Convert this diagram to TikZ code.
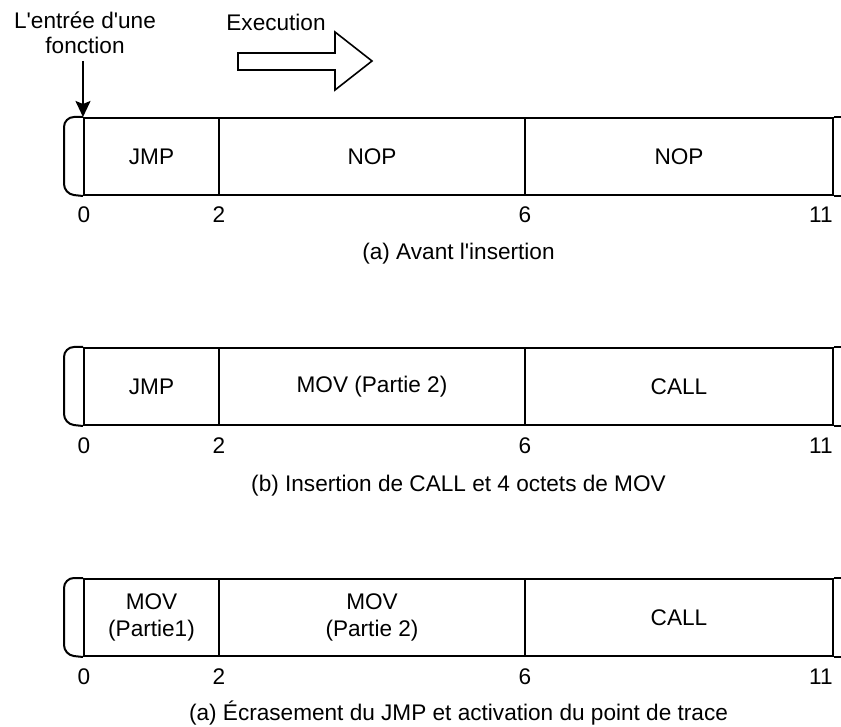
\documentclass[tikz,border=0pt]{standalone}
\usepackage{fontspec}
\setmainfont{Liberation Sans}
\usetikzlibrary{arrows.meta}

\begin{document}
\begin{tikzpicture}[x=0.5pt, y=-0.5pt,
  cell/.style={draw, line width=1pt, minimum height=38.5pt, inner sep=0pt,
               align=center, font=\fontsize{11.3}{13.5}\selectfont},
  tick/.style={font=\fontsize{11.3}{13}\selectfont, inner sep=0pt},
  caption/.style={font=\fontsize{11.3}{13}\selectfont, inner sep=0pt},
  label/.style={font=\fontsize{11.3}{12.5}\selectfont, align=center},
  edge/.style={line width=1pt, rounded corners=5pt},
  arrow/.style={-{Stealth[length=8pt, width=7.5pt, inset=1.5pt]}, line width=1pt}
]
\useasboundingbox (0,0) rectangle (841,727);

% direction of execution
\node[label] (exec) at (276,22) {Execution};
\draw[line width=0.8pt] (238,53) -- (335,53) -- (335,32) -- (372,61)
  -- (335,90) -- (335,70) -- (238,70) -- cycle;

% (a) before
\node[cell, minimum width=67.5pt] (r1a) at (151.5,156.5) {JMP};
\node[cell, minimum width=153pt] (r1b) at (372,156.5) {NOP};
\node[cell, minimum width=154pt] (r1c) at (679,156.5) {NOP};
\draw[edge] (r1a.north west) -- ++(-19,0) -- ++(0,77) -- (r1a.south west);
\draw[edge] (r1c.north east) -- ++(8,0);
\draw[edge] (r1c.south east) -- ++(8,0);
\node[tick] (t1a) at (84,215) {0};
\node[tick] (t1b) at (219,215) {2};
\node[tick] (t1c) at (525,215) {6};
\node[tick, anchor=east] (t1d) at (833,215) {11};
\node[caption] (cap1) at (458.5,254) {(a) Avant l\textquotesingle insertion};

\node[label] (entree) at (85,33) {L\textquotesingle entrée d\textquotesingle une\\fonction};
\draw[arrow] (entree.south -| r1a.north west) -- (r1a.north west);

% (b) CALL inserted
\node[cell, minimum width=67.5pt] (r2a) at (151.5,386.5) {JMP};
\node[cell, minimum width=153pt] (r2b) at (372,386.5) {MOV (Partie 2)};
\node[cell, minimum width=154pt] (r2c) at (679,386.5) {CALL};
\draw[edge] (r2a.north west) -- ++(-19,0) -- ++(0,77) -- (r2a.south west);
\draw[edge] (r2c.north east) -- ++(8,0);
\draw[edge] (r2c.south east) -- ++(8,0);
\node[tick] (t2a) at (84,446) {0};
\node[tick] (t2b) at (219,446) {2};
\node[tick] (t2c) at (525,446) {6};
\node[tick, anchor=east] (t2d) at (833,446) {11};
\node[caption] (cap2) at (458.5,486) {(b) Insertion de CALL et 4 octets de MOV};

% (c) JMP overwritten
\node[cell, minimum width=67.5pt] (r3a) at (151.5,617.5) {MOV\\(Partie1)};
\node[cell, minimum width=153pt] (r3b) at (372,617.5) {MOV\\(Partie 2)};
\node[cell, minimum width=154pt] (r3c) at (679,617.5) {CALL};
\draw[edge] (r3a.north west) -- ++(-19,0) -- ++(0,77) -- (r3a.south west);
\draw[edge] (r3c.north east) -- ++(8,0);
\draw[edge] (r3c.south east) -- ++(8,0);
\node[tick] (t3a) at (84,677) {0};
\node[tick] (t3b) at (219,677) {2};
\node[tick] (t3c) at (525,677) {6};
\node[tick, anchor=east] (t3d) at (833,677) {11};
\node[caption] (cap3) at (458.5,713) {(a) Écrasement du JMP et activation du point de trace};

\end{tikzpicture}
\end{document}
